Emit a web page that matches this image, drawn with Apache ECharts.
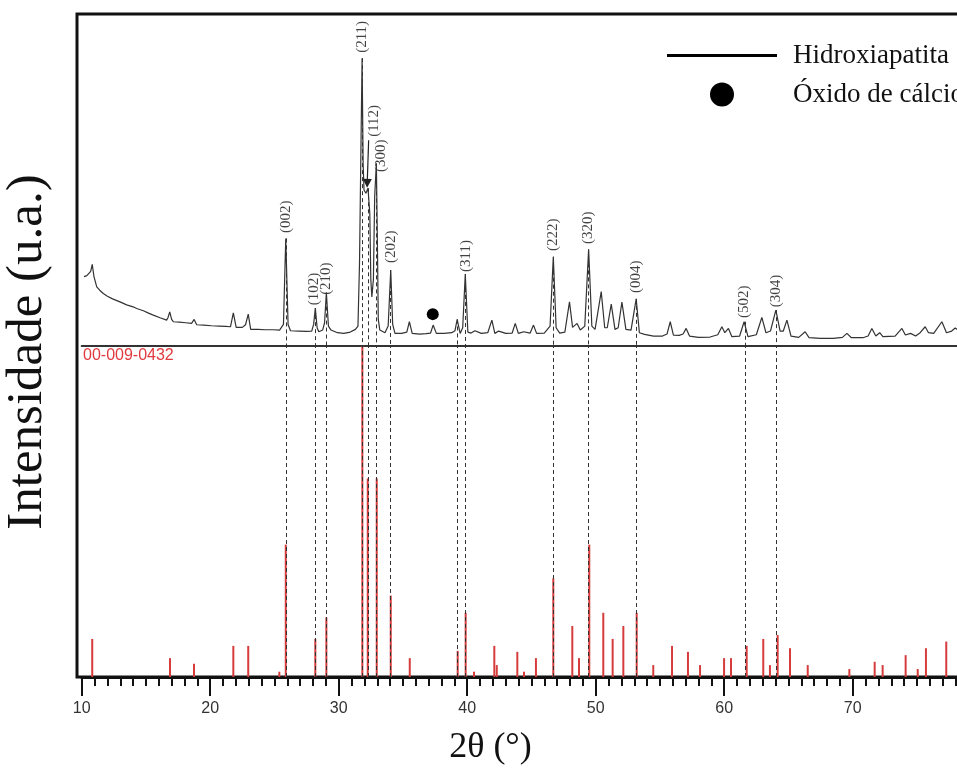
<!DOCTYPE html>
<html>
<head>
<meta charset="utf-8">
<script src="https://cdn.jsdelivr.net/npm/echarts@6/dist/echarts.min.js"></script>
<style>
    html, body { margin: 0; padding: 0; background: #fff; }
    #chart { width: 957px; height: 769px; }
</style>
</head>
<body>
<div id="chart"></div>
<script>
// difratograma medido (2θ, intensidade relativa do painel superior)
var pattern = [
    [10.18,20.9],[10.4,21.2],[10.55,21.6],[10.7,22.5],[10.82,24.6],[10.95,21.0],[11.17,17.8],[11.4,16.8],
    [11.68,15.8],[12.0,15.0],[12.4,14.2],[12.98,13.3],[13.5,12.4],[14.0,11.8],[14.28,11.3],[14.8,10.6],
    [15.2,9.9],[15.57,9.3],[16.1,8.5],[16.61,7.8],[16.72,8.6],[16.85,10.3],[17.0,8.0],[17.14,7.3],
    [17.6,7.2],[18.1,7.0],[18.55,6.8],[18.75,8.0],[18.95,6.4],[19.5,6.3],[20.1,6.1],[20.7,6.0],
    [21.2,5.9],[21.58,5.8],[21.8,10.0],[22.02,5.6],[22.5,5.6],[22.75,6.4],[22.96,9.6],[23.15,5.0],
    [23.7,5.0],[24.3,4.9],[24.9,4.9],[25.4,4.8],[25.7,6.5],[25.88,32.4],[26.06,6.5],[26.25,4.6],
    [26.9,4.5],[27.5,4.4],[27.9,4.5],[28.05,6.5],[28.18,11.4],[28.32,5.5],[28.45,4.3],[28.75,4.8],
    [28.9,7.0],[29.04,16.1],[29.2,6.0],[29.4,4.8],[29.9,4.0],[30.4,3.8],[30.9,4.2],[31.3,5.0],
    [31.5,6.0],[31.62,25],[31.7,50],[31.82,86.7],[31.9,55],[31.97,47],[32.12,46],[32.28,47.5],
    [32.42,40],[32.5,20],[32.58,14.8],[32.7,20],[32.8,45],[32.93,55],[33.0,35],[33.08,8],
    [33.2,4.8],[33.6,4.0],[33.85,6.0],[34.05,22.9],[34.2,6.5],[34.38,3.8],[34.9,3.8],[35.3,4.2],
    [35.5,7.3],[35.72,3.8],[36.3,3.6],[36.8,3.7],[37.15,3.9],[37.35,6.3],[37.6,3.8],[38.2,3.8],
    [38.8,4.0],[39.05,4.6],[39.22,8.0],[39.45,3.8],[39.65,5.5],[39.85,21.7],[40.05,4.2],[40.3,3.9],
    [40.6,4.6],[41.1,3.8],[41.6,4.0],[41.92,7.8],[42.15,3.8],[42.45,4.5],[43.0,3.8],[43.5,3.9],
    [43.74,6.8],[43.98,3.8],[44.4,4.3],[44.9,3.9],[45.16,6.3],[45.4,3.8],[46.0,3.9],[46.45,6.0],
    [46.7,26.9],[46.92,5.5],[47.2,3.9],[47.6,4.2],[47.96,13.3],[48.2,5.6],[48.35,5.0],[48.55,6.8],
    [48.8,4.8],[49.15,6.0],[49.45,29.1],[49.7,6.0],[49.95,5.0],[50.43,16.4],[50.7,5.5],[50.9,5.5],
    [51.21,12.6],[51.5,5.0],[51.75,5.5],[52.04,13.2],[52.35,5.0],[52.75,4.8],[53.15,14.2],[53.4,4.0],
    [53.8,3.5],[54.5,3.0],[55.2,3.0],[55.55,3.6],[55.8,7.3],[56.05,3.3],[56.5,3.2],[56.8,3.6],
    [57.04,5.3],[57.3,3.0],[58.0,2.6],[58.9,2.7],[59.5,3.4],[59.82,5.8],[60.05,4.0],[60.33,5.3],
    [60.6,2.8],[61.2,3.0],[61.55,7.3],[61.85,2.8],[62.5,3.4],[62.93,8.6],[63.25,4.0],[63.6,4.5],
    [64.02,10.8],[64.35,4.5],[64.6,4.5],[64.88,7.8],[65.2,3.0],[65.8,2.6],[66.3,4.3],[66.6,2.5],
    [67.5,2.3],[68.5,2.3],[69.2,2.6],[69.55,3.8],[69.9,2.5],[70.8,2.5],[71.2,3.0],[71.49,5.3],
    [71.8,3.0],[72.1,4.0],[72.35,2.8],[73.3,3.0],[73.83,5.3],[74.1,3.3],[74.5,3.8],[74.9,3.0],
    [75.25,4.0],[75.64,5.8],[75.9,4.0],[76.3,3.8],[76.94,7.3],[77.3,4.0],[77.7,4.5],[77.98,5.4],[78.3,4.5]
];

// ficha padrão 00-009-0432 (2θ, I %)
var refLines = [
    [10.82,11.5],[16.87,5.7],[18.74,4.0],[21.80,9.4],[22.96,9.4],[25.38,1.6],[25.88,40],[28.18,11.5],
    [29.04,18],[31.84,100],[32.26,60],[32.96,60],[34.05,24.6],[35.53,5.7],[39.26,7.9],[39.88,19.4],
    [40.53,1.6],[42.11,9.4],[42.30,3.6],[43.90,7.6],[44.42,1.6],[45.35,5.7],[46.70,29.8],[48.18,15.4],
    [48.70,5.7],[49.50,40],[50.59,19.4],[51.32,11.5],[52.15,15.4],[53.19,19.4],[54.48,3.6],[55.94,9.4],
    [57.18,7.6],[58.12,3.6],[59.99,5.7],[60.53,5.7],[61.75,9.4],[63.04,11.5],[63.56,3.6],[64.16,12.7],
    [65.12,8.7],[66.50,3.6],[69.74,2.4],[71.71,4.6],[72.33,3.6],[74.12,6.6],[75.06,2.4],[75.70,8.7],
    [77.28,10.7]
];

// linhas tracejadas: posição e topo do pico
var dashX   = [25.88, 28.18, 29.04, 31.82, 32.28, 32.93, 34.05, 39.22, 39.85, 46.70, 49.45, 53.15, 61.60, 64.05];
var dashTop = [32.4,  11.4,  16.1,  86.7,  47.5,  55,    22.9,  8.0,   21.7,  26.9,  29.1,  14.2,  7.3,   10.8];

// índices de Miller e posição (base do texto)
var hklNames = ['(002)', '(102)', '(210)', '(211)', '(112)', '(300)', '(202)', '(311)', '(222)', '(320)', '(004)', '(502)', '(304)'];
var hklX     = [25.92, 28.10, 29.02, 31.80, 32.75, 33.30, 34.07, 39.91, 46.65, 49.41, 53.13, 61.54, 64.03];
var hklY     = [34.0,  12.3,  15.4,  88.3,  63.0,  52.4,  25.0,  22.3,  28.6,  30.7,  16.0,  8.4,   11.7];

var caoPoint = [[37.32, 9.6]];

var serif = "'Liberation Serif', 'Times New Roman', serif";
var sans = "'Liberation Sans', Arial, sans-serif";

var chart = echarts.init(document.getElementById('chart'));

var hklData = [];
for (var i = 0; i < hklNames.length; i++) {
    hklData.push({ name: hklNames[i], value: [hklX[i], hklY[i]] });
}

var option = {
    animation: false,
    backgroundColor: '#fff',
    title: {
        text: '00-009-0432',
        left: 83,
        top: 348,
        padding: 0,
        textStyle: { color: '#e0393e', fontSize: 16, fontWeight: 'normal', fontFamily: sans }
    },
    legend: {
        orient: 'vertical',
        left: 662,
        top: 37,
        itemWidth: 110,
        itemHeight: 24,
        itemGap: 12,
        selectedMode: false,
        data: [
            { name: 'Hidroxiapatita', icon: 'path://M0,0 L110,0 L110,3 L0,3 Z', itemStyle: { color: '#000' } },
            { name: 'Óxido de cálcio', icon: 'circle', itemStyle: { color: '#000' } }
        ],
        textStyle: { fontFamily: serif, fontSize: 27, color: '#111', lineHeight: 26, padding: [0, 0, 0, 11] }
    },
    grid: [
        { left: 77, top: 14, width: 910, height: 663, show: true, borderColor: '#111', borderWidth: 3,
          backgroundColor: 'transparent', outerBoundsMode: 'none' },
        { left: 81.7, top: 14, width: 899.5, height: 332, outerBoundsMode: 'none' },
        { left: 81.7, top: 346, width: 899.5, height: 331, outerBoundsMode: 'none' }
    ],
    xAxis: [
        { gridIndex: 0, type: 'value', min: 0, max: 1, show: false },
        {
            gridIndex: 1, type: 'value', min: 10, max: 80, interval: 10, position: 'bottom',
            axisLine: { show: true, lineStyle: { color: '#333', width: 2 } },
            axisTick: { show: false }, axisLabel: { show: false }, splitLine: { show: false }
        },
        {
            gridIndex: 2, type: 'value', min: 10, max: 80, interval: 10,
            axisLine: { show: true, lineStyle: { color: '#111', width: 3 } },
            axisTick: { show: true, length: 19, lineStyle: { color: '#111', width: 2 } },
            minorTick: { show: true, splitNumber: 10, length: 9, lineStyle: { color: '#111', width: 2 } },
            axisLabel: { color: '#333', fontSize: 16, fontFamily: sans, margin: 24 },
            splitLine: { show: false },
            name: '2θ (°)',
            nameLocation: 'middle',
            nameGap: 53,
            nameTextStyle: { fontFamily: serif, fontSize: 36, color: '#111', padding: [0, 82, 0, 0] }
        }
    ],
    yAxis: [
        {
            gridIndex: 0, type: 'value', min: 0, max: 1, show: true,
            axisLine: { show: false }, axisTick: { show: false }, axisLabel: { show: false }, splitLine: { show: false },
            name: 'Intensidade (u.a.)',
            nameLocation: 'middle',
            nameRotate: 90,
            nameGap: 24,
            nameTextStyle: { fontFamily: serif, fontSize: 51, color: '#111', padding: [0, 13, 0, 0] }
        },
        { gridIndex: 1, type: 'value', min: 0, max: 100, show: false },
        { gridIndex: 2, type: 'value', min: 0, max: 100, show: false }
    ],
    series: [
        {
            name: 'Hidroxiapatita',
            type: 'line',
            xAxisIndex: 1,
            yAxisIndex: 1,
            symbol: 'none',
            showSymbol: false,
            lineStyle: { color: '#333', width: 1.2 },
            itemStyle: { color: '#000' },
            data: pattern,
            markLine: {
                silent: true,
                symbol: 'none',
                label: { show: false },
                lineStyle: { type: [4, 3], color: '#333', width: 1 },
                data: dashX.map(function (x, i) {
                    return [{ coord: [x, dashTop[i]] }, { coord: [x, 0] }];
                })
            }
        },
        {
            name: 'Óxido de cálcio',
            type: 'scatter',
            xAxisIndex: 1,
            yAxisIndex: 1,
            symbolSize: 12,
            itemStyle: { color: '#000', opacity: 1 },
            data: caoPoint
        },
        {
            name: 'hkl',
            type: 'scatter',
            xAxisIndex: 1,
            yAxisIndex: 1,
            symbolSize: 0,
            itemStyle: { color: 'transparent' },
            label: {
                show: true,
                formatter: '{b}',
                position: 'inside',
                rotate: 90,
                align: 'left',
                verticalAlign: 'middle',
                color: '#111',
                fontFamily: serif,
                fontSize: 15
            },
            data: hklData,
            markLine: {
                silent: true,
                symbol: ['none', 'triangle'],
                symbolSize: 9,
                label: { show: false },
                lineStyle: { type: 'solid', color: '#222', width: 1.2 },
                data: [[{ coord: [32.33, 62] }, { coord: [32.22, 49] }]]
            }
        },
        {
            name: 'ref',
            type: 'bar',
            xAxisIndex: 2,
            yAxisIndex: 2,
            barWidth: 2,
            itemStyle: { color: '#d63c3c' },
            data: refLines,
            markLine: {
                silent: true,
                symbol: 'none',
                label: { show: false },
                lineStyle: { type: [4, 3], color: '#333', width: 1 },
                data: dashX.map(function (x) { return { xAxis: x }; })
            }
        }
    ]
};

chart.setOption(option);
</script>
</body>
</html>
